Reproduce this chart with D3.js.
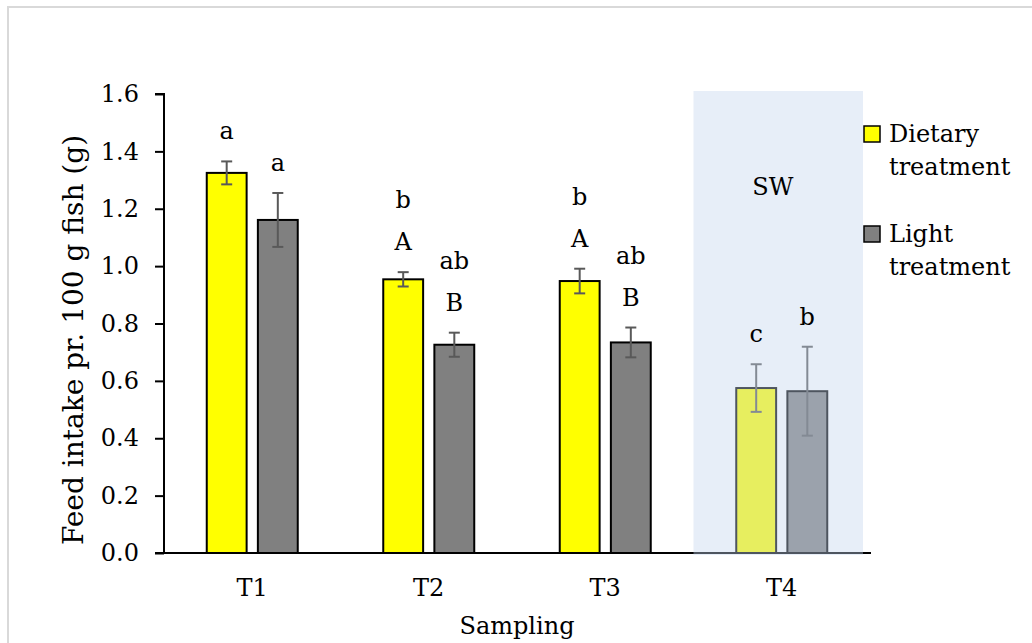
<!DOCTYPE html>
<html>
<head>
<meta charset="utf-8">
<script src="https://cdn.jsdelivr.net/npm/d3@7"></script>
<style>
  html, body { margin: 0; padding: 0; background: #fff; }
  svg { display: block; }
  text { font-family: "DejaVu Serif", serif; fill: #000; }
</style>
</head>
<body>
<svg width="1032" height="643"></svg>
<script>
// data
const categories = ['T1', 'T2', 'T3', 'T4'];
const dietary = [1.325, 0.954, 0.948, 0.575];
const dietaryErr = [0.040, 0.025, 0.043, 0.083];
const light = [1.161, 0.726, 0.734, 0.564];
const lightErr = [0.094, 0.042, 0.052, 0.155];
const dietaryLetters = [['a'], ['A', 'b'], ['A', 'b'], ['c']];
const lightLetters = [['a'], ['B', 'ab'], ['B', 'ab'], ['b']];
const seriesNames = ['Dietary treatment', 'Light treatment'];
const seriesColors = ['#ffff00', '#808080'];
const yTicks = [0, 0.2, 0.4, 0.6, 0.8, 1.0, 1.2, 1.4, 1.6];
const shadedCategory = 'T4';
const shadedLabel = 'SW';

const svg = d3.select('svg');
const fontSize = 24;

// outer frame
svg.append('rect')
    .attr('x', 8).attr('y', 7)
    .attr('width', 1040).attr('height', 660)
    .attr('fill', 'none')
    .attr('stroke', '#d9d9d9')
    .attr('stroke-width', 2);

const x = d3.scaleBand().domain(categories).range([164, 870]);
const y = d3.scaleLinear().domain([0, 1.6]).range([553, 94]);

const rows = categories.map((c, i) => ({
  cat: c,
  vals: [
    { s: 0, v: dietary[i], e: dietaryErr[i], letters: dietaryLetters[i] },
    { s: 1, v: light[i], e: lightErr[i], letters: lightLetters[i] }
  ]
}));

const x1 = d3.scaleBand().domain([0, 1]).range([-45.5, 45.5]).paddingInner(0.22);

const g = svg.append('g');

const groups = g.selectAll('g.grp')
  .data(rows)
  .enter().append('g')
    .attr('transform', d => `translate(${x(d.cat) + x.bandwidth() / 2},0)`);

// bars
groups.selectAll('rect')
  .data(d => d.vals)
  .enter().append('rect')
    .attr('x', d => x1(d.s))
    .attr('y', d => y(d.v))
    .attr('width', x1.bandwidth())
    .attr('height', d => y(0) - y(d.v))
    .attr('fill', d => seriesColors[d.s])
    .attr('stroke', '#000')
    .attr('stroke-width', 2);

// error bars
const eb = groups.selectAll('g.err')
  .data(d => d.vals)
  .enter().append('g')
    .attr('stroke', '#595959')
    .attr('stroke-width', 2)
    .attr('transform', d => `translate(${x1(d.s) + x1.bandwidth() / 2},0)`);
eb.append('line').attr('x1', 0).attr('x2', 0)
    .attr('y1', d => y(d.v + d.e)).attr('y2', d => y(d.v - d.e));
eb.append('line').attr('x1', -5.5).attr('x2', 5.5)
    .attr('y1', d => y(d.v + d.e)).attr('y2', d => y(d.v + d.e));
eb.append('line').attr('x1', -5.5).attr('x2', 5.5)
    .attr('y1', d => y(d.v - d.e)).attr('y2', d => y(d.v - d.e));

// y axis
const yAxis = g.append('g')
    .attr('transform', 'translate(164,0)')
    .call(d3.axisLeft(y).tickValues(yTicks).tickFormat(d3.format('.1f')).tickSize(9).tickPadding(16));
yAxis.select('.domain').attr('stroke', '#000').attr('stroke-width', 2)
    .attr('d', `M-9,${y(1.6)}H0V${y(0)}`);
yAxis.selectAll('.tick line').attr('stroke', '#000').attr('stroke-width', 2);
yAxis.selectAll('.tick text')
    .style('font-family', '"DejaVu Serif", serif')
    .style('font-size', fontSize + 'px')
    .attr('fill', '#000');

// x axis
const xAxis = g.append('g')
    .attr('transform', `translate(0,${y(0)})`)
    .call(d3.axisBottom(x).tickSize(0).tickPadding(26));
xAxis.select('.domain').attr('stroke', '#000').attr('stroke-width', 2)
    .attr('d', `M155,0H871`);
xAxis.selectAll('.tick text')
    .style('font-family', '"DejaVu Serif", serif')
    .style('font-size', fontSize + 'px')
    .attr('fill', '#000');

// shaded overlay for seawater sampling
svg.append('rect')
    .attr('x', x(shadedCategory))
    .attr('y', 91)
    .attr('width', x.bandwidth() - 7)
    .attr('height', y(0) + 2 - 91)
    .attr('fill', 'rgb(194,212,237)')
    .attr('fill-opacity', 0.4);

svg.append('text')
    .attr('x', x(shadedCategory) + x.bandwidth() / 2 - 9)
    .attr('y', 195)
    .attr('text-anchor', 'middle')
    .style('font-size', fontSize + 'px')
    .text(shadedLabel);

// significance letters
const lab = svg.append('g');
rows.forEach(r => {
  r.vals.forEach(d => {
    const cx = x(r.cat) + x.bandwidth() / 2 + x1(d.s) + x1.bandwidth() / 2;
    d.letters.forEach((t, k) => {
      lab.append('text')
        .attr('x', cx)
        .attr('y', y(d.v + d.e) - 22 - k * 42)
        .attr('text-anchor', 'middle')
        .style('font-size', fontSize + 'px')
        .text(t);
    });
  });
});

// axis titles
svg.append('text')
    .attr('x', 517).attr('y', 634)
    .attr('text-anchor', 'middle')
    .style('font-size', fontSize + 'px')
    .text('Sampling');

svg.append('text')
    .attr('transform', 'translate(83,340) rotate(-90)')
    .attr('text-anchor', 'middle')
    .style('font-size', '28px')
    .text('Feed intake pr. 100 g fish (g)');

// legend
const legend = svg.append('g').attr('transform', 'translate(864,126)');
const li = legend.selectAll('g')
  .data(seriesNames)
  .enter().append('g')
    .attr('transform', (d, i) => `translate(0,${i * 100})`);
li.append('rect')
    .attr('width', 16).attr('height', 16)
    .attr('fill', (d, i) => seriesColors[i])
    .attr('stroke', '#000').attr('stroke-width', 1.5);
li.append('text')
    .attr('x', 25).attr('y', 16)
    .style('font-size', fontSize + 'px')
    .text(d => d.split(' ')[0]);
li.append('text')
    .attr('x', 25).attr('y', 49)
    .style('font-size', fontSize + 'px')
    .text(d => d.split(' ')[1]);
</script>
</body>
</html>
